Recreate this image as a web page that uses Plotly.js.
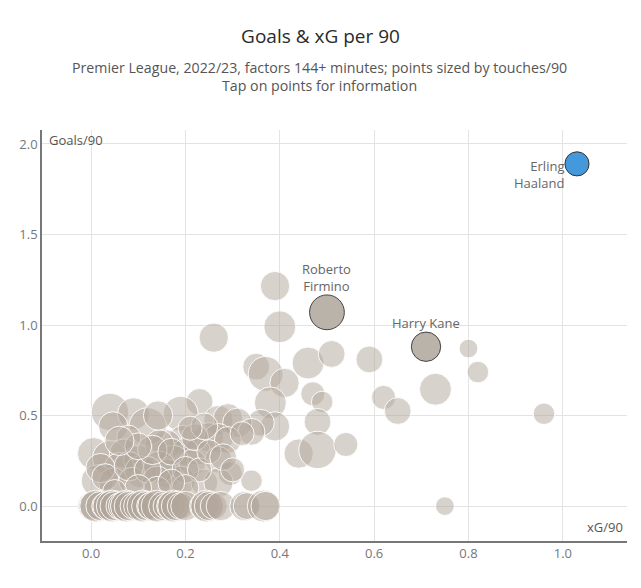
<!DOCTYPE html>
<html>
<head>
<meta charset="utf-8">
<script src="https://cdn.plot.ly/plotly-3.0.1.min.js"></script>
<style>html,body{margin:0;padding:0;background:#fff;}#chart{width:641px;height:588px;}</style>
</head>
<body>
<div id="chart"></div>
<script>
// Other players: xG/90, Goals/90, touches/90
const otherXg = [
  0.39, 0.40, 0.26, 0.46, 0.51, 0.59, 0.35, 0.37, 0.41, 0.38, 0.47, 0.49, 0.62, 0.65, 0.73, 0.80, 0.82, 0.96, 0.75,
  0.48, 0.44, 0.48, 0.54, 0.39, 0.36, 0.34,
  0.23, 0.19, 0.27, 0.29, 0.31, 0.34, 0.25, 0.27, 0.29, 0.195, 0.16, 0.225, 0.20, 0.175, 0.215, 0.27, 0.295, 0.16, 0.19, 0.24, 0.27,
  0.04, 0.09, 0.12, 0.047, 0.08, 0.005, 0.04, 0.07, 0.10, 0.145, 0.06, 0.105, 0.145, 0.013, 0.047, 0.087, 0.14, 0.142,
  0.02, 0.03, 0.08, 0.12, 0.13, 0.10, 0.17, 0.20, 0.23, 0.22, 0.25, 0.28, 0.30, 0.06, 0.14, 0.10, 0.05, 0.20, 0.17, 0.24, 0.21, 0.32,
  0.0, 0.005, 0.01, 0.02, 0.03, 0.035, 0.045, 0.05, 0.06, 0.068, 0.075, 0.08, 0.09, 0.10, 0.11, 0.117, 0.125, 0.13, 0.14, 0.153,
  0.16, 0.17, 0.175, 0.18, 0.19, 0.20, 0.24, 0.245, 0.25, 0.26, 0.275, 0.325, 0.33, 0.365, 0.37
];
const otherGoals = [
  1.215, 0.99, 0.93, 0.79, 0.84, 0.81, 0.77, 0.73, 0.68, 0.57, 0.62, 0.575, 0.60, 0.525, 0.645, 0.87, 0.74, 0.51, 0.0,
  0.465, 0.29, 0.31, 0.34, 0.44, 0.46, 0.14,
  0.575, 0.51, 0.475, 0.485, 0.46, 0.41, 0.38, 0.375, 0.365, 0.365, 0.34, 0.30, 0.30, 0.255, 0.24, 0.255, 0.18, 0.18, 0.14, 0.13, 0.13,
  0.52, 0.51, 0.44, 0.44, 0.38, 0.29, 0.265, 0.29, 0.255, 0.34, 0.215, 0.19, 0.215, 0.14, 0.13, 0.14, 0.14, 0.50,
  0.21, 0.16, 0.22, 0.20, 0.31, 0.33, 0.30, 0.20, 0.20, 0.38, 0.30, 0.27, 0.20, 0.36, 0.09, 0.10, 0.08, 0.10, 0.13, 0.44, 0.43, 0.40,
  0, 0, 0, 0, 0, 0, 0, 0, 0, 0, 0, 0, 0, 0, 0, 0, 0, 0, 0, 0,
  0, 0, 0, 0, 0, 0, 0, 0, 0, 0, 0, 0, 0, 0, 0
];
const otherTouches = [
  37, 44, 37, 44, 31, 31, 31, 52, 37, 44, 25, 20, 25, 31, 44, 15, 20, 20, 15,
  31, 37, 60, 25, 37, 31, 20,
  31, 52, 37, 37, 37, 31, 37, 37, 31, 37, 37, 31, 31, 37, 31, 31, 25, 37, 37, 31, 37,
  60, 44, 60, 37, 25, 44, 52, 37, 37, 37, 37, 44, 44, 44, 37, 31, 37, 37,
  37, 31, 37, 31, 37, 31, 31, 31, 25, 31, 25, 31, 25, 37, 31, 31, 25, 31, 31, 31, 25, 25,
  31, 37, 44, 37, 31, 37, 44, 37, 31, 37, 44, 37, 31, 37, 44, 37, 31, 37, 44, 37,
  31, 37, 44, 37, 31, 37, 37, 44, 37, 31, 37, 37, 31, 44, 37
];

// Highlighted players
const hiNames = ["Roberto Firmino", "Harry Kane", "Erling Haaland"];
const hiXg = [0.50, 0.71, 1.03];
const hiGoals = [1.07, 0.88, 1.89];
const hiTouches = [52, 37, 25];

const FONT = "Open Sans, sans-serif";
const SIZEREF = 0.086;

const traces = [
  {
    type: "scatter", mode: "markers", x: otherXg, y: otherGoals,
    marker: {size: otherTouches, sizemode: "area", sizeref: SIZEREF, opacity: 1,
      color: "rgba(178,166,154,0.5)", line: {color: "rgba(255,255,255,0.9)", width: 1}},
    hoverinfo: "x+y"
  },
  {
    type: "scatter", mode: "markers", x: hiXg.slice(0, 2), y: hiGoals.slice(0, 2), text: hiNames.slice(0, 2),
    marker: {size: hiTouches.slice(0, 2), sizemode: "area", sizeref: SIZEREF, opacity: 1,
      color: "#bab3aa", line: {color: "#444", width: 1}},
    hoverinfo: "text+x+y"
  },
  {
    type: "scatter", mode: "markers", x: hiXg.slice(2), y: hiGoals.slice(2), text: hiNames.slice(2),
    marker: {size: hiTouches.slice(2), sizemode: "area", sizeref: SIZEREF, opacity: 1,
      color: "#4499dc", line: {color: "#333", width: 1}},
    hoverinfo: "text+x+y"
  }
];

const labelFont = {family: FONT, size: 13, color: "#666"};

const layout = {
  width: 641, height: 588,
  margin: {l: 42, r: 14, t: 130, b: 47},
  paper_bgcolor: "#fff", plot_bgcolor: "#fff",
  showlegend: false,
  font: {family: FONT},
  title: {text: "Goals & xG per 90", x: 0.5, xref: "container", xanchor: "center",
    y: 1 - 36 / 588, yref: "container", yanchor: "middle",
    font: {family: FONT, size: 19, color: "#2a2a2a", weight: 500}},
  xaxis: {
    range: [-0.104, 1.136], dtick: 0.2, tick0: 0, tickformat: ".1f",
    showgrid: true, gridcolor: "#e3e3e3", gridwidth: 1, zeroline: false,
    showline: true, linecolor: "#777", linewidth: 1.5, ticks: "",
    tickfont: {family: FONT, size: 13, color: "#777"}, fixedrange: true
  },
  yaxis: {
    range: [-0.193, 2.077], dtick: 0.5, tick0: 0, tickformat: ".1f",
    showgrid: true, gridcolor: "#e3e3e3", gridwidth: 1, zeroline: false,
    showline: true, linecolor: "#777", linewidth: 1.5, ticks: "",
    tickfont: {family: FONT, size: 13, color: "#777"}, fixedrange: true
  },
  annotations: [
    {text: "Premier League, 2022/23, factors 144+ minutes; points sized by touches/90<br>Tap on points for information",
      xref: "paper", yref: "paper", x: 0.475, y: 1.130, xanchor: "center", yanchor: "middle",
      showarrow: false, font: {family: FONT, size: 14.2, color: "#555"}},
    {text: "Goals/90", xref: "paper", yref: "paper", x: 0, y: 1, xanchor: "left", yanchor: "top",
      xshift: 5, yshift: 1, showarrow: false, font: {family: FONT, size: 13, color: "#555"}},
    {text: "xG/90", xref: "paper", yref: "paper", x: 1, y: 0, xanchor: "right", yanchor: "bottom",
      xshift: -2, yshift: 3, showarrow: false, font: {family: FONT, size: 13, color: "#555"}},
    {text: "Roberto<br>Firmino", x: hiXg[0], y: hiGoals[0], xanchor: "center", yanchor: "bottom",
      yshift: 15, showarrow: false, font: labelFont},
    {text: "Harry Kane", x: hiXg[1], y: hiGoals[1], xanchor: "center", yanchor: "bottom",
      yshift: 13, showarrow: false, font: labelFont},
    {text: "Erling<br>Haaland", x: hiXg[2], y: hiGoals[2], xanchor: "right", yanchor: "top",
      xshift: -11, yshift: 9, align: "right", showarrow: false, font: labelFont}
  ]
};

Plotly.newPlot("chart", traces, layout, {displayModeBar: false});
</script>
</body>
</html>
